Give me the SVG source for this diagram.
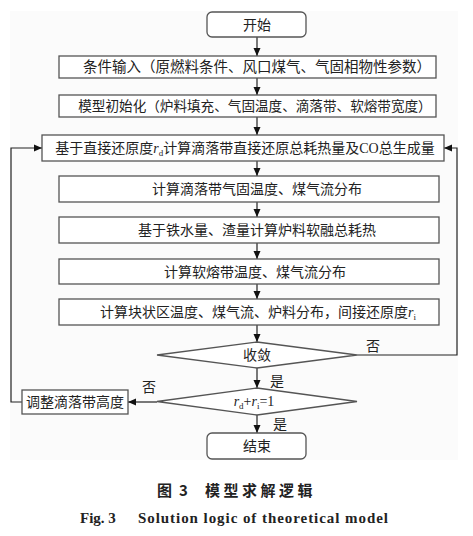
<svg xmlns="http://www.w3.org/2000/svg" width="473" height="536" viewBox="0 0 473 536">
<style>
.box{fill:#fff;stroke:#555;stroke-width:1.3}
.ln{fill:none;stroke:#222;stroke-width:1.2}
.t{font-family:"Liberation Serif","Noto Sans CJK SC",serif;font-size:14px;fill:#222;text-anchor:middle}
.i{font-style:italic}
.s{font-size:9px}
.cap{font-family:"Noto Sans CJK SC",sans-serif;font-size:15px;font-weight:bold;fill:#222}
.fig{font-family:"Liberation Serif",serif;font-size:15px;font-weight:bold;fill:#222}
</style>
<defs>
<marker id="ah" markerWidth="8" markerHeight="8" refX="8" refY="4" orient="auto" markerUnits="userSpaceOnUse">
<path d="M0,0.5 L8,4 L0,7.5 Z" fill="#111"/>
</marker>
</defs>
<rect x="10" y="11" width="448" height="449" fill="#fbfbfb"/>
<g id="connectors">
<line class="ln" x1="257" y1="37" x2="257" y2="56" marker-end="url(#ah)"/>
<line class="ln" x1="257" y1="78" x2="257" y2="95" marker-end="url(#ah)"/>
<line class="ln" x1="257" y1="117" x2="257" y2="135" marker-end="url(#ah)"/>
<line class="ln" x1="257" y1="161" x2="257" y2="176" marker-end="url(#ah)"/>
<line class="ln" x1="257" y1="202" x2="257" y2="217" marker-end="url(#ah)"/>
<line class="ln" x1="257" y1="243" x2="257" y2="259" marker-end="url(#ah)"/>
<line class="ln" x1="257" y1="284" x2="257" y2="299" marker-end="url(#ah)"/>
<line class="ln" x1="257" y1="325" x2="257" y2="342" marker-end="url(#ah)"/>
<line class="ln" x1="257" y1="368" x2="257" y2="388" marker-end="url(#ah)"/>
<line class="ln" x1="257" y1="415" x2="257" y2="433" marker-end="url(#ah)"/>
<polyline class="ln" points="357,355 457,355 457,148 444,148" marker-end="url(#ah)"/>
<line class="ln" x1="157" y1="402" x2="128" y2="402" marker-end="url(#ah)"/>
<polyline class="ln" points="22,402 11,402 11,148 42,148" marker-end="url(#ah)"/>
<text class="t" x="373" y="351">否</text>
<text class="t" x="277" y="386">是</text>
<text class="t" x="149" y="392">否</text>
<text class="t" x="280" y="429">是</text>
</g>
<g id="start">
<rect class="box" x="207" y="12" width="99" height="25" rx="5"/>
<text class="t" x="257" y="29.5">开始</text>
</g>
<g id="input">
<rect class="box" x="59" y="56" width="377" height="22"/>
<text class="t" x="257" y="72" style="font-size:14.5px">条件输入（原燃料条件、风口煤气、气固相物性参数）</text>
</g>
<g id="init">
<rect class="box" x="59" y="95" width="377" height="22"/>
<text class="t" x="255" y="111" style="font-size:13.6px">模型初始化（炉料填充、气固温度、滴落带、软熔带宽度）</text>
</g>
<g id="calc-rd">
<rect class="box" x="42" y="135" width="402" height="26"/>
<text class="t" x="245" y="153">基于直接还原度<tspan class="i">r</tspan><tspan class="s" dy="3">d</tspan><tspan dy="-3">计算滴落带直接还原总耗热量及CO总生成量</tspan></text>
</g>
<g id="drip">
<rect class="box" x="59" y="176" width="380" height="26"/>
<text class="t" x="257" y="194">计算滴落带气固温度、煤气流分布</text>
</g>
<g id="melt-heat">
<rect class="box" x="59" y="217" width="380" height="26"/>
<text class="t" x="257" y="235">基于铁水量、渣量计算炉料软融总耗热</text>
</g>
<g id="cohesive">
<rect class="box" x="59" y="259" width="380" height="25"/>
<text class="t" x="255" y="276.5">计算软熔带温度、煤气流分布</text>
</g>
<g id="lumpy">
<rect class="box" x="59" y="299" width="380" height="26"/>
<text class="t" x="258" y="317">计算块状区温度、煤气流、炉料分布，间接还原度<tspan class="i">r</tspan><tspan class="s" dy="3">i</tspan></text>
</g>
<g id="converge">
<polygon class="box" points="257,342 357,355 257,368 157,355"/>
<text class="t" x="257" y="360">收敛</text>
</g>
<g id="check">
<polygon class="box" points="257,388 357,401.5 257,415 157,401.5"/>
<text class="t" x="254" y="406"><tspan class="i">r</tspan><tspan class="s" dy="3">d</tspan><tspan dy="-3">+</tspan><tspan class="i">r</tspan><tspan class="s" dy="3">i</tspan><tspan dy="-3">=1</tspan></text>
</g>
<g id="adjust">
<rect class="box" x="22" y="390" width="106" height="24"/>
<text class="t" x="75" y="407">调整滴落带高度</text>
</g>
<g id="end">
<rect class="box" x="207" y="433" width="99" height="26" rx="5"/>
<text class="t" x="257" y="451">结束</text>
</g>
<g id="caption">
<text class="cap" x="157" y="496">图</text>
<text class="cap" x="179" y="496">3</text>
<text class="cap" x="205" y="496" letter-spacing="3.5">模型求解逻辑</text>
<text class="fig" x="80" y="523">Fig. 3</text>
<text class="fig" x="138" y="523" textLength="250" lengthAdjust="spacing">Solution logic of theoretical model</text>
</g>
</svg>
